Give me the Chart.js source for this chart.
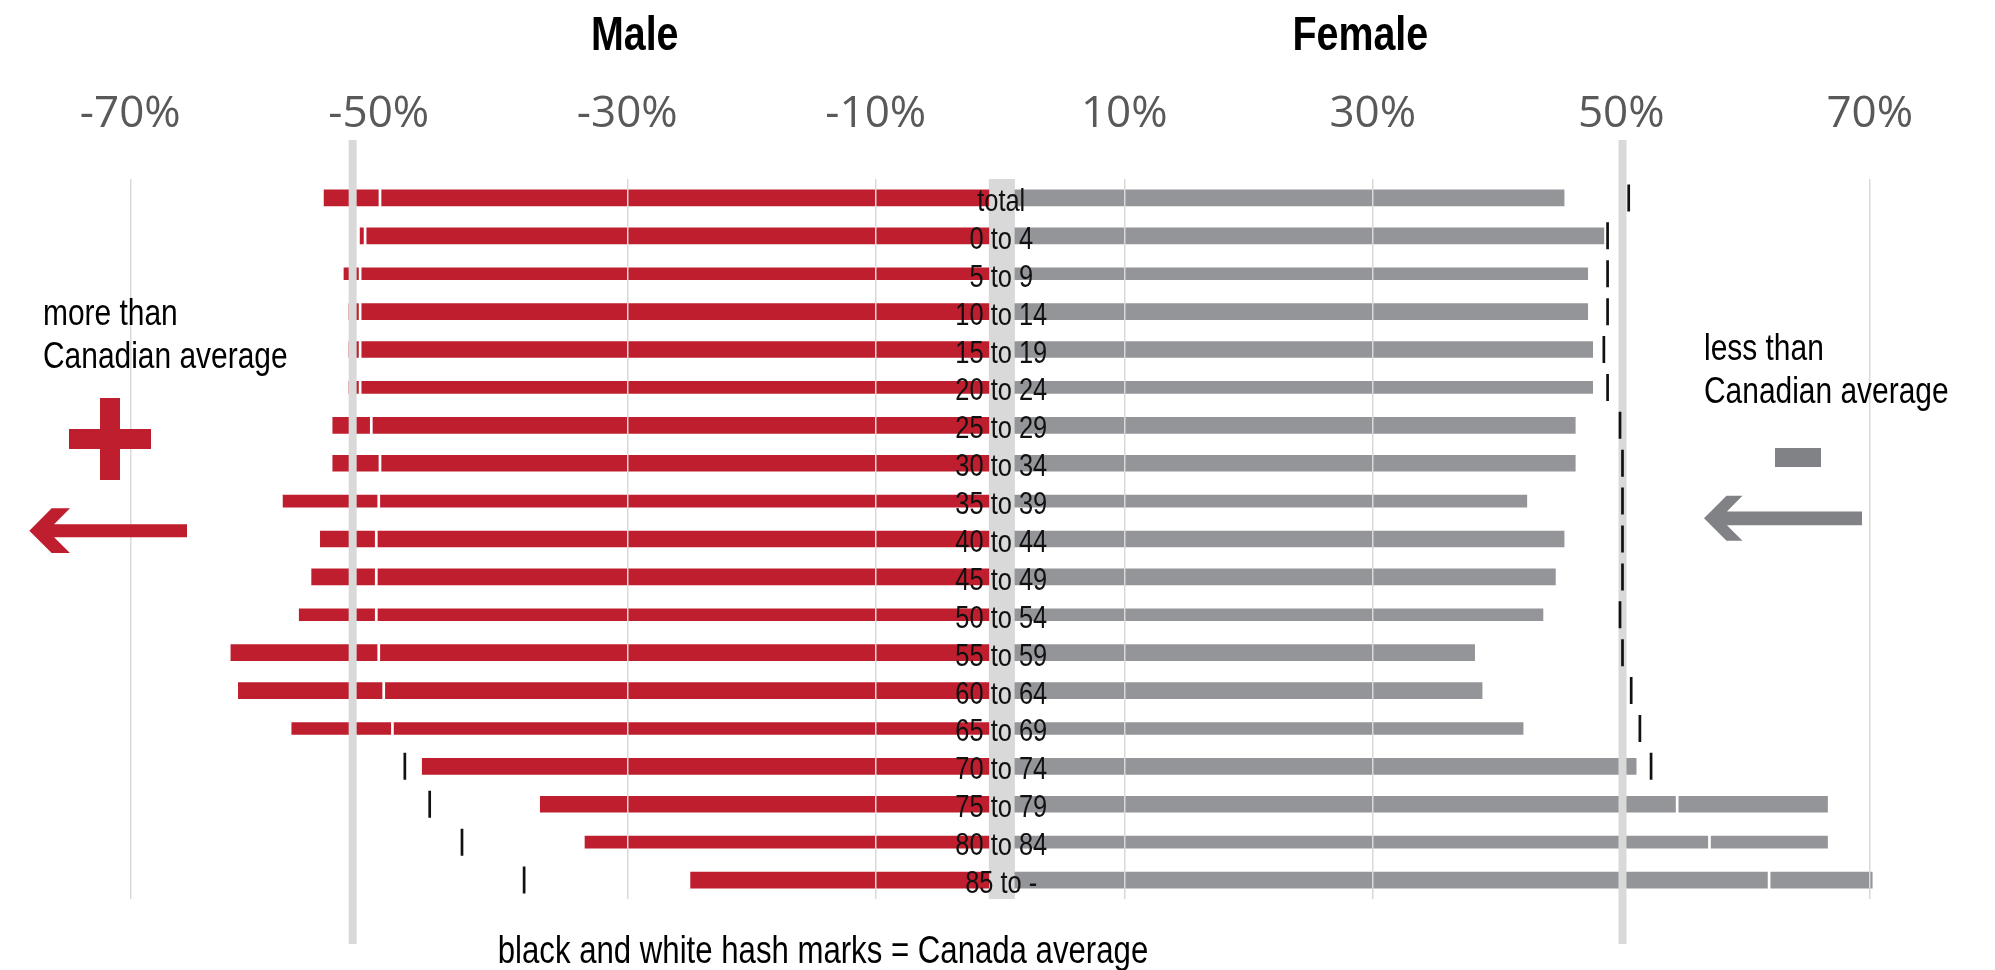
<!DOCTYPE html>
<html>
<head>
<meta charset="utf-8">
<title>Population share by sex and age group</title>
<script src="https://cdn.jsdelivr.net/npm/chart.js@4.4.1/dist/chart.umd.min.js"></script>
<style>
  html, body { margin: 0; padding: 0; background: #ffffff; }
  canvas { display: block; }
</style>
</head>
<body>
<canvas id="pyramid" width="1995" height="970"></canvas>
<script>
// ---- data -------------------------------------------------------------
const AGE_GROUPS = ['total', '0 to 4', '5 to 9', '10 to 14', '15 to 19', '20 to 24',
  '25 to 29', '30 to 34', '35 to 39', '40 to 44', '45 to 49', '50 to 54',
  '55 to 59', '60 to 64', '65 to 69', '70 to 74', '75 to 79', '80 to 84', '85 to -'];

// local share of each age group, in percent
const MALE_SHARE = [54.4, 51.5, 52.8, 52.4, 52.4, 52.4, 53.7, 53.7, 57.7, 54.7,
  55.4, 56.4, 61.9, 61.3, 57.0, 46.5, 37.0, 33.4, 24.9];
const FEMALE_SHARE = [45.4, 48.6, 47.3, 47.3, 47.7, 47.7, 46.3, 46.3, 42.4, 45.4,
  44.7, 43.7, 38.2, 38.8, 42.1, 51.2, 66.6, 66.6, 70.2];

// Canada-wide share (hash marks), in percent
const MALE_CANADA = [49.9, 51.1, 51.5, 51.5, 51.5, 51.5, 50.6, 49.9, 50.0, 50.2,
  50.2, 50.2, 50.0, 49.6, 48.9, 47.9, 45.9, 43.3, 38.3];
const FEMALE_CANADA = [50.6, 48.9, 48.9, 48.9, 48.6, 48.9, 49.9, 50.1, 50.1, 50.1,
  50.1, 49.9, 50.1, 50.8, 51.5, 52.4, 54.5, 57.1, 61.9];

const TICK_VALUES = [-70, -50, -30, -10, 10, 30, 50, 70];
const TICK_LABELS = ['-70%', '-50%', '-30%', '-10%', '10%', '30%', '50%', '70%'];

// vertical reference bands (percent)
const REFERENCE_BANDS = [-52.1, 50.1];

// ---- layout / style ---------------------------------------------------
const LABEL_GAP = { left: -0.9, right: 1.2 };   // grey strip holding the age labels
const RED = '#be1e2d';
const GREY = '#939598';
const ARROW_GREY = '#818286';
const LIGHT = '#d9d9d9';
const SANS = "'Liberation Sans', Arimo, sans-serif";
const SQUEEZE = 0.82;                            // condensed lettering

const isThinRow = i => i % 3 === 2;

function barsFor(values, sign, thin) {
  return values.map((v, i) => {
    if (isThinRow(i) !== thin) return null;
    return sign < 0 ? [-v, LABEL_GAP.left] : [LABEL_GAP.right, v];
  });
}

function hashesFor(values, sign) {
  return values.map((v, i) => ({ x: sign * v, y: AGE_GROUPS[i] }));
}

function barDataset(values, sign, thin, color) {
  return {
    type: 'bar',
    data: barsFor(values, sign, thin),
    backgroundColor: color,
    borderWidth: 0,
    grouped: false,
    categoryPercentage: 1,
    barPercentage: 1,
    maxBarThickness: thin ? 12 : 16,
    order: 2
  };
}

function hashDataset(avg, share, sign) {
  return {
    type: 'scatter',
    data: hashesFor(avg, sign),
    pointStyle: 'line',
    rotation: 90,
    pointRadius: 13.5,
    pointHoverRadius: 13.5,
    pointBorderWidth: 2.7,
    pointBorderColor: ctx => share[ctx.dataIndex] > avg[ctx.dataIndex] ? '#ffffff' : '#111111',
    order: 1
  };
}

// condensed text: draw with a horizontal squeeze
function narrowText(ctx, text, x, y, align, font, squeeze = SQUEEZE) {
  ctx.save();
  ctx.font = font;
  ctx.textAlign = 'left';
  ctx.textBaseline = 'alphabetic';
  const w = ctx.measureText(text).width * squeeze;
  const left = align === 'center' ? x - w / 2 : align === 'right' ? x - w : x;
  ctx.translate(left, y);
  ctx.scale(squeeze, 1);
  ctx.fillText(text, 0, 0);
  ctx.restore();
}

// grey strip behind the age labels
const labelStrip = {
  id: 'labelStrip',
  beforeDatasetsDraw(chart) {
    const { ctx, chartArea, scales: { x } } = chart;
    const x0 = x.getPixelForValue(LABEL_GAP.left);
    const x1 = x.getPixelForValue(LABEL_GAP.right);
    ctx.save();
    ctx.fillStyle = LIGHT;
    ctx.fillRect(x0, chartArea.top, x1 - x0, chartArea.bottom - chartArea.top);
    ctx.restore();
  }
};

// reference bands, painted over the bars but under the hash marks
const referenceBands = {
  id: 'referenceBands',
  afterDatasetDraw(chart, args) {
    if (args.index !== 0) return;
    const { ctx, chartArea, scales: { x } } = chart;
    ctx.save();
    ctx.fillStyle = LIGHT;
    REFERENCE_BANDS.forEach(v => {
      const px = x.getPixelForValue(v);
      ctx.fillRect(px - 4, chartArea.top - 39, 8, chartArea.bottom - chartArea.top + 84);
    });
    ctx.restore();
  }
};

// age labels, headings and side notes
const annotations = {
  id: 'annotations',
  afterDraw(chart) {
    const { ctx, scales: { x, y } } = chart;
    ctx.save();

    // age-group labels in the centre strip
    ctx.fillStyle = '#111111';
    const cx = x.getPixelForValue(0.1);
    AGE_GROUPS.forEach((g, i) => {
      narrowText(ctx, g, cx, y.getPixelForValue(i) + 13, 'center', `31px ${SANS}`);
    });

    // headings
    ctx.fillStyle = '#000000';
    narrowText(ctx, 'Male', x.getPixelForValue(-29.4), 50, 'center', `bold 48px ${SANS}`);
    narrowText(ctx, 'Female', x.getPixelForValue(29.0), 50, 'center', `bold 48px ${SANS}`);

    // side notes
    const noteFont = `36.5px ${SANS}`;
    narrowText(ctx, 'more than', 43, 325, 'left', noteFont);
    narrowText(ctx, 'Canadian average', 43, 368, 'left', noteFont);
    narrowText(ctx, 'less than', 1704, 360, 'left', noteFont);
    narrowText(ctx, 'Canadian average', 1704, 403, 'left', noteFont);

    // footer
    narrowText(ctx, 'black and white hash marks = Canada average', 823, 963, 'center', `38px ${SANS}`);

    // plus / minus signs
    ctx.fillStyle = RED;
    ctx.fillRect(100, 398, 20, 82);
    ctx.fillRect(69, 429, 82, 20);
    ctx.fillStyle = ARROW_GREY;
    ctx.fillRect(1775, 448, 46, 19);

    drawArrow(ctx, 29.3, 530.7, 22.4, 18.3, 6.5, 187, RED);
    drawArrow(ctx, 1704, 518.3, 22.5, 16, 6.9, 1862, ARROW_GREY);

    ctx.restore();
  }
};

function drawArrow(ctx, tipX, tipY, headH, armW, shaftHalf, tailX, color) {
  ctx.beginPath();
  ctx.moveTo(tipX, tipY);
  ctx.lineTo(tipX + headH, tipY - headH);
  ctx.lineTo(tipX + headH + armW, tipY - headH);
  ctx.lineTo(tipX + armW + shaftHalf, tipY - shaftHalf);
  ctx.lineTo(tailX, tipY - shaftHalf);
  ctx.lineTo(tailX, tipY + shaftHalf);
  ctx.lineTo(tipX + armW + shaftHalf, tipY + shaftHalf);
  ctx.lineTo(tipX + headH + armW, tipY + headH);
  ctx.lineTo(tipX + headH, tipY + headH);
  ctx.closePath();
  ctx.fillStyle = color;
  ctx.fill();
}

new Chart(document.getElementById('pyramid'), {
  type: 'bar',
  data: {
    labels: AGE_GROUPS,
    datasets: [
      barDataset(MALE_SHARE, -1, false, RED),
      barDataset(MALE_SHARE, -1, true, RED),
      barDataset(FEMALE_SHARE, 1, false, GREY),
      barDataset(FEMALE_SHARE, 1, true, GREY),
      hashDataset(MALE_CANADA, MALE_SHARE, -1),
      hashDataset(FEMALE_CANADA, FEMALE_SHARE, 1)
    ]
  },
  options: {
    indexAxis: 'y',
    responsive: false,
    animation: false,
    devicePixelRatio: 1,
    events: [],
    layout: { autoPadding: false, padding: { left: 6, right: 1, top: 49.4, bottom: 71 } },
    plugins: { legend: { display: false }, tooltip: { enabled: false }, title: { display: false } },
    scales: {
      x: {
        type: 'linear',
        position: 'top',
        min: -80,
        max: 80,
        afterBuildTicks: scale => { scale.ticks = TICK_VALUES.map(v => ({ value: v })); },
        afterFit: scale => { scale.paddingLeft = 0; scale.paddingRight = 0; },
        border: { display: false },
        grid: {
          z: 1,
          drawTicks: false,
          lineWidth: 1.5,
          color: ctx => (ctx.tick && Math.abs(ctx.tick.value) === 50) ? 'rgba(0,0,0,0)' : LIGHT
        },
        ticks: {
          autoSkip: false,
          maxRotation: 0,
          padding: 38.4,
          color: '#595959',
          font: { family: "'Open Sans', sans-serif", size: 44, weight: 400 },
          callback: value => TICK_LABELS[TICK_VALUES.indexOf(value)]
        }
      },
      y: {
        type: 'category',
        display: false,
        offset: true,
        grid: { display: false }
      }
    }
  },
  plugins: [labelStrip, referenceBands, annotations]
});
</script>
</body>
</html>
